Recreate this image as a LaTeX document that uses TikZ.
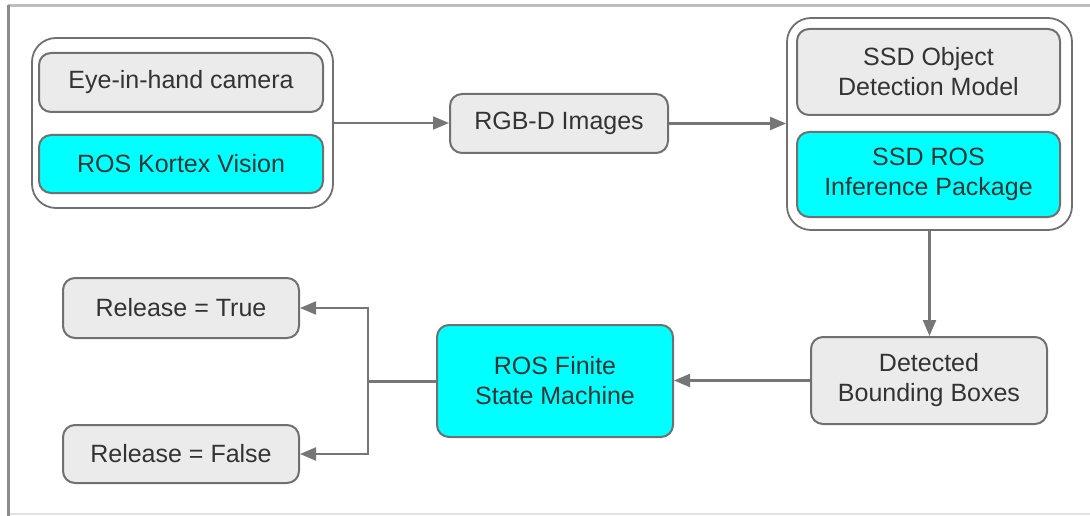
\documentclass[tikz,border=0pt]{standalone}
\usepackage{fontspec}
\setmainfont{Liberation Sans}
\usetikzlibrary{arrows.meta}
\definecolor{boxgray}{HTML}{EBEBEB}
\definecolor{edgegray}{HTML}{707070}
\definecolor{wire}{HTML}{767676}
\definecolor{rosCyan}{HTML}{00FFFF}
\definecolor{ink}{HTML}{333333}
\definecolor{frametop}{HTML}{BDBDBD}
\definecolor{frameleft}{HTML}{8C8C8C}
\definecolor{framebottom}{HTML}{E2E2E2}

\begin{document}
\begin{tikzpicture}[x=1pt,y=-1pt,
  every node/.style={font=\fontsize{25}{30}\selectfont, text=ink, align=center},
  plainbox/.style={draw=edgegray, line width=2pt, rounded corners=12pt, fill=boxgray, inner sep=0pt},
  rosbox/.style={plainbox, fill=rosCyan},
  groupbox/.style={draw=edgegray, line width=1.8pt, rounded corners=24pt, fill=white, inner sep=0pt},
  wireline/.style={draw=wire, line width=2.2pt},
  flow/.style={wireline, -{Triangle[length=16pt,width=13pt]}},
]
\useasboundingbox (0,0) rectangle (1090,516);

% page frame
\draw[framebottom, line width=2pt] (8,514) -- (1090,514);
\draw[frametop, line width=3pt] (8,6) -- (1090,6);
\draw[frameleft, line width=3pt] (8,516) -- (8,5);

% camera group
\node[groupbox, minimum width=301pt, minimum height=170pt] (g1) at (182.5,123) {};
\node[plainbox, minimum width=284pt, minimum height=59pt] (cam) at (181,82.5) {Eye-in-hand camera};
\node[rosbox, minimum width=284pt, minimum height=58pt] (kortex) at (181,164) {ROS Kortex Vision};

% images
\node[plainbox, minimum width=218pt, minimum height=59pt] (rgb) at (559,123.5) {RGB-D Images};

% detection group
\node[groupbox, minimum width=285pt, minimum height=212pt] (g2) at (929.5,124) {};
\node[plainbox, minimum width=263pt, minimum height=86pt] (ssdmodel) at (928.5,72) {SSD Object\\Detection Model};
\node[rosbox, minimum width=263pt, minimum height=85pt] (ssdros) at (928.5,174.5) {SSD ROS\\Inference Package};

% bounding boxes and state machine
\node[plainbox, minimum width=236pt, minimum height=87pt] (det) at (929,380.5) {Detected\\Bounding Boxes};
\node[rosbox, minimum width=236pt, minimum height=112pt] (fsm) at (555,381) {ROS Finite\\State Machine};

% release outcomes
\node[plainbox, minimum width=236pt, minimum height=60pt] (rtrue) at (181,308) {Release = True};
\node[plainbox, minimum width=236pt, minimum height=58pt] (rfalse) at (181,454) {Release = False};

% connectors
\draw[flow] (g1.east) -- (g1.east -| rgb.west);
\draw[flow] (rgb.east) -- (rgb.east -| g2.west);
\draw[flow] (g2.south) -- (g2.south |- det.north);
\draw[flow] (det.west) -- (det.west -| fsm.east);
\coordinate (fork) at (368,381);
\draw[wireline, line width=3pt] (fsm.west) -- (fork);
\draw[flow] (fork) |- (rtrue.east);
\draw[flow] (fork) |- (rfalse.east);
\end{tikzpicture}
\end{document}
